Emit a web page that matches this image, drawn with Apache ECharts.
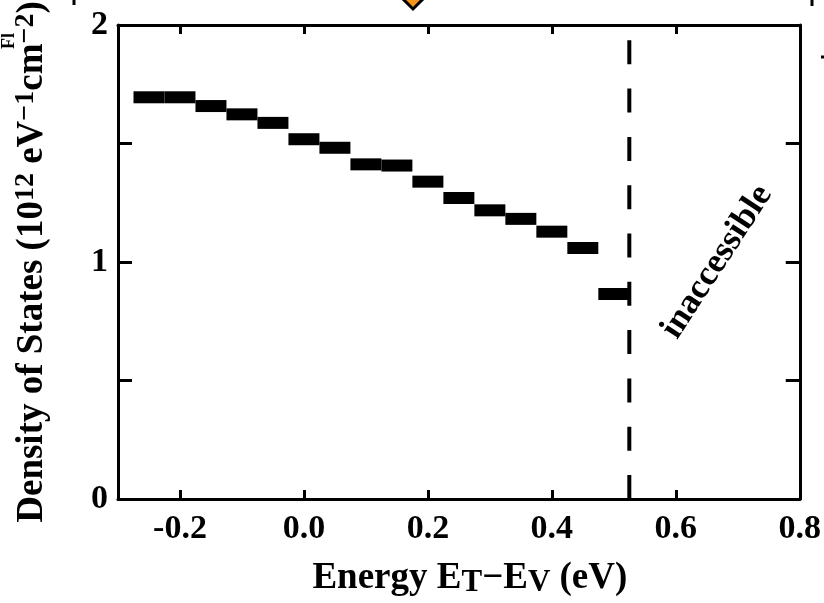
<!DOCTYPE html>
<html>
<head>
    <meta charset="utf-8">
    <title>Density of States</title>
    <script src="https://cdn.jsdelivr.net/npm/echarts@6.0.0/dist/echarts.min.js"></script>
</head>
<body style="margin:0;background:#fff;">
    <div id="chart" style="width: 824px;height:603px;"></div>
    <script type="text/javascript">
        // bin centres (eV) and density of states (1e12 eV^-1 cm^-2)
        var energies = [-0.25, -0.20, -0.15, -0.10, -0.05, 0.00, 0.05, 0.10, 0.15, 0.20, 0.25, 0.30, 0.35, 0.40, 0.45, 0.50];
        var density = [1.695, 1.695, 1.658, 1.623, 1.587, 1.518, 1.482, 1.412, 1.407, 1.339, 1.270, 1.218, 1.182, 1.128, 1.059, 0.865];
        var binWidth = 0.05;
        var cutoffEnergy = 0.525; // dashed line, beyond it is inaccessible
        var xTicks = [-0.2, 0.0, 0.2, 0.4, 0.6, 0.8];
        var yTicks = [0, 0.5, 1, 1.5, 2];
        var yLabels = [0, 1, 2];

        var chart = echarts.init(document.getElementById('chart'));
        var serif = '"Liberation Serif", "DejaVu Serif", serif';

        var lineStyle = { color: '#000', width: 3 };
        var labelStyle = { fontFamily: serif, fontWeight: 'bold', fontSize: 34, color: '#000' };

        function renderItem(params, api) {
            var left = api.coord([api.value(0) - binWidth / 2, api.value(1)]);
            var right = api.coord([api.value(0) + binWidth / 2, api.value(1)]);
            return {
                type: 'rect',
                shape: { x: left[0], y: left[1] - 6, width: right[0] - left[0], height: 12 },
                style: { fill: '#000' }
            };
        }

        var barData = energies.map(function (e, i) { return [e, density[i]]; });

        function frameAxis(extra) {
            return Object.assign({
                type: 'value',
                axisLine: { onZero: false, lineStyle: lineStyle },
                splitLine: { show: false }
            }, extra);
        }

        var option = {
            backgroundColor: '#fff',
            animation: false,
            grid: { left: 118, right: 22, top: 25, bottom: 100 },
            xAxis: [frameAxis({
                min: -0.3, max: 0.8, position: 'bottom',
                axisTick: { inside: true, length: 9, lineStyle: lineStyle, customValues: xTicks },
                axisLabel: Object.assign({ customValues: xTicks, margin: 13,
                    formatter: function (v) { return v.toFixed(1); } }, labelStyle),
                name: '{m|Energy E}{sub|T}{m|\u2212E}{sub|V}{m| (eV)}',
                nameLocation: 'middle', nameGap: 59,
                nameTextStyle: {
                    padding: [0, 0, 0, 22],
                    rich: {
                        m: { fontFamily: serif, fontWeight: 'bold', fontSize: 37, lineHeight: 40, color: '#000' },
                        sub: { fontFamily: serif, fontWeight: 'bold', fontSize: 31, lineHeight: 30, verticalAlign: 'bottom', color: '#000' }
                    }
                }
            }), frameAxis({
                min: -0.3, max: 0.8, position: 'top',
                axisTick: { inside: true, length: 9, lineStyle: lineStyle, customValues: xTicks },
                axisLabel: { show: false }
            })],
            yAxis: [frameAxis({
                min: 0, max: 2, position: 'left',
                axisTick: { inside: true, length: 14, lineStyle: lineStyle, customValues: yTicks },
                axisLabel: Object.assign({ customValues: yLabels, margin: 10 }, labelStyle),
                name: '{m|Density of States (10}{sup|12}{m| eV}{sup|\u22121}{m|cm}{sup|\u22122}{m|)}',
                nameLocation: 'middle', nameRotate: 90, nameGap: 66,
                nameTextStyle: {
                    rich: {
                        m: { fontFamily: serif, fontWeight: 'bold', fontSize: 37, lineHeight: 40, color: '#000' },
                        sup: { fontFamily: serif, fontWeight: 'bold', fontSize: 28, lineHeight: 26, verticalAlign: 'top', color: '#000' }
                    }
                }
            }), frameAxis({
                min: 0, max: 2, position: 'right',
                axisTick: { inside: true, length: 14, lineStyle: lineStyle, customValues: yTicks },
                axisLabel: { show: false }
            })],
            graphic: [
                {
                    type: 'text', x: 717, y: 262, rotation: 57 * Math.PI / 180,
                    style: { text: 'inaccessible', font: 'bold 35px "Liberation Serif"', fill: '#000',
                        align: 'center', verticalAlign: 'middle' }
                },
                // bits of neighbouring panels cut off at the edges
                {
                    type: 'polygon',
                    shape: { points: [[400, -4], [413, 9], [426, -4], [413, -17]] },
                    style: { fill: '#f7941d', stroke: '#000', lineWidth: 3 }
                },
                { type: 'line', shape: { x1: 74, y1: 0, x2: 74, y2: 5 }, style: { stroke: '#000', lineWidth: 3 } },
                { type: 'line', shape: { x1: 812, y1: 0, x2: 812, y2: 6 }, style: { stroke: '#000', lineWidth: 3 } },
                { type: 'line', shape: { x1: 821, y1: 57, x2: 824, y2: 57 }, style: { stroke: '#000', lineWidth: 3 } },
                {
                    type: 'text', x: 9, y: 41, rotation: Math.PI / 2,
                    style: { text: 'Fl', font: 'bold 18px "Liberation Serif"', fill: '#000',
                        align: 'center', verticalAlign: 'middle' }
                }
            ],
            series: [{
                type: 'custom',
                renderItem: renderItem,
                encode: { x: 0, y: 1 },
                data: barData
            }, {
                type: 'line',
                symbol: 'none',
                data: [[cutoffEnergy, 0], [cutoffEnergy, 2]],
                lineStyle: { color: '#000', width: 4, type: [24, 24.3] }
            }]
        };
        chart.setOption(option);
    </script>
</body>
</html>
